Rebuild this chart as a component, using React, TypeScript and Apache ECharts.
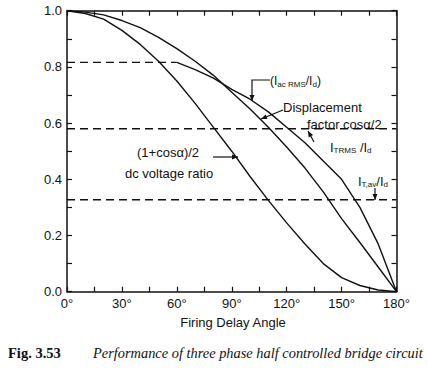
import React, { useEffect, useRef } from "react";
import * as echarts from "echarts";

// Firing delay angle (degrees)
const angles = [0, 10, 20, 30, 40, 50, 60, 70, 80, 90, 100, 110, 120, 130, 140, 150, 160, 170, 180];
// Displacement factor cos(α/2)
const displacementFactor = [1.0, 0.995, 0.985, 0.965, 0.94, 0.905, 0.865, 0.82, 0.77, 0.71, 0.65, 0.585, 0.515, 0.44, 0.355, 0.26, 0.175, 0.088, 0];
// dc voltage ratio (1+cosα)/2
const dcVoltageRatio = [1.0, 0.99, 0.97, 0.93, 0.88, 0.82, 0.75, 0.67, 0.585, 0.5, 0.41, 0.325, 0.245, 0.17, 0.1, 0.05, 0.022, 0.006, 0];
// I_acRMS / I_d (constant part, dashed)
const acRmsFlatAngles = [0, 60];
const acRmsFlatValue = 0.816;
// I_acRMS / I_d (falling part)
const acRmsAngles = [60, 70, 80, 90, 100, 110, 120, 130, 140, 150, 160, 170, 180];
const acRmsValues = [0.816, 0.79, 0.76, 0.72, 0.685, 0.64, 0.585, 0.53, 0.465, 0.4, 0.3, 0.17, 0];
// Thyristor ratios (dashed, constant)
const fullRange = [0, 180];
const tRmsValue = 0.58;
const tAvValue = 0.327;

const xTickLabels = ["0°", "30°", "60°", "90°", "120°", "150°", "180°"];
const yTickLabels = ["0.0", "0.2", "0.4", "0.6", "0.8", "1.0"];

const INK = "#111";
const SANS = "Liberation Sans, Arial, sans-serif";
const SERIF = "Liberation Serif, Times New Roman, serif";

const pairs = (xs: number[], ys: number[]) => xs.map((x, i) => [x, ys[i]]);

function arrowHead(tip: [number, number], from: [number, number], len = 6, half = 2.5) {
  const dx = tip[0] - from[0];
  const dy = tip[1] - from[1];
  const d = Math.hypot(dx, dy) || 1;
  const ux = dx / d, uy = dy / d;
  const bx = tip[0] - ux * len, by = tip[1] - uy * len;
  return {
    type: "polygon",
    shape: { points: [tip, [bx - uy * half, by + ux * half], [bx + uy * half, by - ux * half]] },
    style: { fill: INK },
  };
}

function arrowLine(points: [number, number][]) {
  const n = points.length;
  return [
    { type: "polyline", shape: { points }, style: { stroke: INK, lineWidth: 1.2, fill: null } },
    arrowHead(points[n - 1], points[n - 2]),
  ];
}

const subRich = {
  s: { fontSize: 8, fontFamily: SANS, fill: INK, verticalAlign: "bottom", padding: [6, 0, 0, 0] },
};

function label(x: number, y: number, text: string, extra: any = {}) {
  return {
    type: "text",
    x,
    y,
    style: {
      text,
      fontSize: 13,
      fontFamily: SANS,
      fill: INK,
      align: "left",
      verticalAlign: "middle",
      rich: subRich,
      ...extra,
    },
  };
}

export default function App() {
  const ref = useRef<HTMLDivElement>(null);
  useEffect(() => {
    document.body.style.margin = "0";
    const chart = echarts.init(ref.current!, undefined, { renderer: "svg" });
    const axisLine = { show: true, onZero: false, lineStyle: { color: INK, width: 1.5 } };
    const axisTick = { show: true, inside: true, length: 5, lineStyle: { color: INK, width: 1.2 } };
    const lineSeries = (name: string, data: number[][], dashed = false) => ({
      name,
      type: "line",
      data,
      symbol: "none",
      xAxisIndex: 0,
      yAxisIndex: 0,
      lineStyle: { color: INK, width: 1.4, type: dashed ? [8, 5] : "solid" },
      z: 3,
    });
    chart.setOption({
      animation: false,
      backgroundColor: "#fff",
      grid: { left: 67, right: 31.5, top: 10.7, bottom: 84.3 },
      xAxis: [
        {
          type: "value",
          min: 0,
          max: 180,
          interval: 15,
          position: "bottom",
          axisLine,
          axisTick,
          splitLine: { show: false },
          axisLabel: {
            margin: 5,
            fontSize: 13,
            fontFamily: SANS,
            color: INK,
            formatter: (v: number) => (Math.round(v) % 30 === 0 ? xTickLabels[Math.round(v) / 30] : ""),
          },
        },
        {
          type: "value",
          min: 0,
          max: 180,
          interval: 15,
          position: "top",
          axisLine,
          axisTick,
          splitLine: { show: false },
          axisLabel: { show: false },
        },
      ],
      yAxis: [
        {
          type: "value",
          min: 0,
          max: 1,
          interval: 0.1,
          position: "left",
          axisLine,
          axisTick,
          splitLine: { show: false },
          axisLabel: {
            margin: 5,
            fontSize: 13,
            fontFamily: SANS,
            color: INK,
            formatter: (v: number) => {
              const k = Math.round(v * 10);
              return k % 2 === 0 ? yTickLabels[k / 2] : "";
            },
          },
        },
        {
          type: "value",
          min: 0,
          max: 1,
          interval: 0.1,
          position: "right",
          axisLine,
          axisTick,
          splitLine: { show: false },
          axisLabel: { show: false },
        },
      ],
      series: [
        lineSeries("Displacement factor cosα/2", pairs(angles, displacementFactor)),
        lineSeries("(1+cosα)/2 dc voltage ratio", pairs(angles, dcVoltageRatio)),
        lineSeries("I_acRMS/I_d", pairs(acRmsAngles, acRmsValues)),
        lineSeries("I_acRMS/I_d (α<60°)", acRmsFlatAngles.map((a) => [a, acRmsFlatValue]), true),
        lineSeries("I_TRMS/I_d", fullRange.map((a) => [a, tRmsValue]), true),
        lineSeries("I_Tav/I_d", fullRange.map((a) => [a, tAvValue]), true),
      ],
      graphic: [
        // (I_acRMS/I_d)
        label(270, 81, "(I{s|ac RMS}/I{s|d})", { fontSize: 12 }),
        ...arrowLine([[270, 80], [252, 80], [252, 101]]),
        // Displacement factor
        label(283, 107, "Displacement"),
        label(307, 124, "factor cosα/2"),
        ...arrowLine([[283, 110], [261, 119]]),
        // I_TRMS/I_d
        label(330, 147, "I{s|TRMS} /I{s|d}"),
        ...arrowLine([[314, 142], [308, 131]]),
        // (1+cosα)/2 dc voltage ratio
        label(137, 152, "(1+cosα)/2"),
        label(125, 173, "dc voltage ratio"),
        ...arrowLine([[213, 157], [238, 157]]),
        // I_T,av/I_d
        label(358, 181, "I{s|T,av}/I{s|d}"),
        ...arrowLine([[375, 188], [375, 200]]),
        // axis title
        {
          type: "text",
          x: 233,
          y: 322,
          style: { text: "Firing Delay Angle", fontSize: 13, fontFamily: SANS, fill: INK, align: "center", verticalAlign: "middle" },
        },
        // caption
        {
          type: "text",
          x: 8,
          y: 353,
          style: { text: "Fig. 3.53", fontSize: 14.5, fontWeight: "bold", fontFamily: SERIF, fill: INK, align: "left", verticalAlign: "middle" },
        },
        {
          type: "text",
          x: 93,
          y: 353,
          style: {
            text: "Performance of three phase half controlled bridge circuit",
            fontSize: 14.4,
            fontStyle: "italic",
            fontFamily: SERIF,
            fill: INK,
            align: "left",
            verticalAlign: "middle",
          },
        },
      ],
    });
    return () => chart.dispose();
  }, []);
  return <div ref={ref} style={{ width: 428, height: 376 }} />;
}
